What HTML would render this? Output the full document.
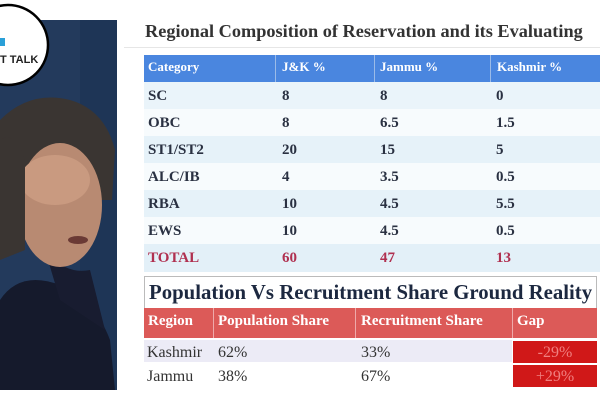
<!DOCTYPE html>
<html><head><meta charset="utf-8"><style>
body{margin:0;width:600px;height:400px;overflow:hidden;background:#fff;position:relative;font-family:"Liberation Serif",serif}
.a{position:absolute}
.t{font-weight:bold;white-space:nowrap}
</style></head><body>
<svg class="a" style="left:0;top:0" width="120" height="400">
<rect x="0" y="20" width="117" height="370" fill="#233a5c"/>
<rect x="80" y="20" width="37" height="370" fill="#1e3556"/>
<path d="M0 300 Q20 270 60 285 Q95 300 110 340 L115 390 L0 390Z" fill="#151a2c"/>
<path d="M45 250 Q65 275 90 270 L105 330 L60 300Z" fill="#181c30"/>
<path d="M0 120 Q30 90 70 100 Q105 110 115 150 L112 200 L20 200 L0 210Z" fill="#3a3532"/>
<ellipse cx="60" cy="205" rx="42" ry="62" fill="#b88a72"/>
<ellipse cx="55" cy="180" rx="35" ry="25" fill="#c99a80"/>
<path d="M0 140 Q15 130 25 160 L25 250 L0 260Z" fill="#3a3532"/>
<ellipse cx="78" cy="240" rx="10" ry="4" fill="#6a3a35"/>
<circle cx="8" cy="45" r="40" fill="#fff" stroke="#000" stroke-width="2.5"/>
<text x="0" y="63" font-family="Liberation Sans" font-weight="bold" font-size="11" fill="#222">T TALK</text>
<rect x="0" y="38" width="5" height="8" fill="#2aa0d8"/>
</svg>
<div class="a t" style="left:145px;top:21px;font-size:18.3px;color:#333">Regional Composition of Reservation and its Evaluating</div>
<div class="a" style="left:124px;top:47px;width:476px;height:1px;background:#e6e6e6"></div>
<div class="a" style="left:144px;top:55px;width:456px;height:27px;background:#4a86df"></div>
<div class="a" style="left:275px;top:55px;width:1px;height:27px;background:#9bbbe8"></div>
<div class="a" style="left:374px;top:55px;width:1px;height:27px;background:#9bbbe8"></div>
<div class="a" style="left:490px;top:55px;width:1px;height:27px;background:#9bbbe8"></div>
<div class="a" style="left:144px;top:82px;width:456px;height:190px;background:linear-gradient(#eaf4fa 0 27px,#f7fbfd 27px 54px,#e6f2f9 54px 81px,#f7fbfd 81px 108px,#e6f2f9 108px 135px,#f7fbfd 135px 162px,#e3f0f8 162px 190px)"></div>
<div class="a t" style="left:148px;top:59px;font-size:13px;color:#fff">Category</div>
<div class="a t" style="left:282px;top:59px;font-size:13px;color:#fff">J&amp;K %</div>
<div class="a t" style="left:380px;top:59px;font-size:13px;color:#fff">Jammu %</div>
<div class="a t" style="left:497px;top:59px;font-size:13px;color:#fff">Kashmir %</div>
<div class="a t" style="left:148px;top:83px;font-size:15px;color:#2a3142;line-height:27px">SC<br>OBC<br>ST1/ST2<br>ALC/IB<br>RBA<br>EWS<br><span style="color:#b03050">TOTAL</span></div>
<div class="a t" style="left:282px;top:83px;font-size:15px;color:#2a3142;line-height:27px">8<br>8<br>20<br>4<br>10<br>10<br><span style="color:#b03050">60</span></div>
<div class="a t" style="left:380px;top:83px;font-size:15px;color:#2a3142;line-height:27px">8<br>6.5<br>15<br>3.5<br>4.5<br>4.5<br><span style="color:#b03050">47</span></div>
<div class="a t" style="left:496px;top:83px;font-size:15px;color:#2a3142;line-height:27px">0<br>1.5<br>5<br>0.5<br>5.5<br>0.5<br><span style="color:#b03050">13</span></div>
<div class="a" style="left:144px;top:276px;width:451px;height:32px;border:1px solid #bbb;background:#fff"></div>
<div class="a t" style="left:149px;top:281px;font-size:20.8px;color:#1c2840">Population Vs Recruitment Share Ground Reality</div>
<div class="a" style="left:144px;top:308px;width:453px;height:30px;background:#dc5a58"></div>
<div class="a" style="left:213px;top:308px;width:1px;height:30px;background:#eaa"></div>
<div class="a" style="left:355px;top:308px;width:1px;height:30px;background:#eaa"></div>
<div class="a" style="left:512px;top:308px;width:1px;height:30px;background:#eaa"></div>
<div class="a t" style="left:148px;top:313px;font-size:15px;color:#fff">Region</div>
<div class="a t" style="left:218px;top:313px;font-size:15px;color:#fff">Population Share</div>
<div class="a t" style="left:361px;top:313px;font-size:15px;color:#fff">Recruitment Share</div>
<div class="a t" style="left:517px;top:313px;font-size:15px;color:#fff">Gap</div>
<div class="a" style="left:144px;top:340px;width:368px;height:22px;background:#ecebf6"></div>
<div class="a" style="left:513px;top:341px;width:84px;height:22px;background:#d01818"></div>
<div class="a" style="left:513px;top:365px;width:84px;height:22px;background:#d01818"></div>
<div class="a" style="left:147px;top:341px;font-size:16px;color:#333;line-height:24px">Kashmir<br>Jammu</div>
<div class="a" style="left:218px;top:341px;font-size:16px;color:#333;line-height:24px">62%<br>38%</div>
<div class="a" style="left:361px;top:341px;font-size:16px;color:#333;line-height:24px">33%<br>67%</div>
<div class="a" style="left:513px;top:341px;width:84px;text-align:center;font-size:16px;color:#f08080;line-height:24px">-29%<br>+29%</div>
</body></html>
